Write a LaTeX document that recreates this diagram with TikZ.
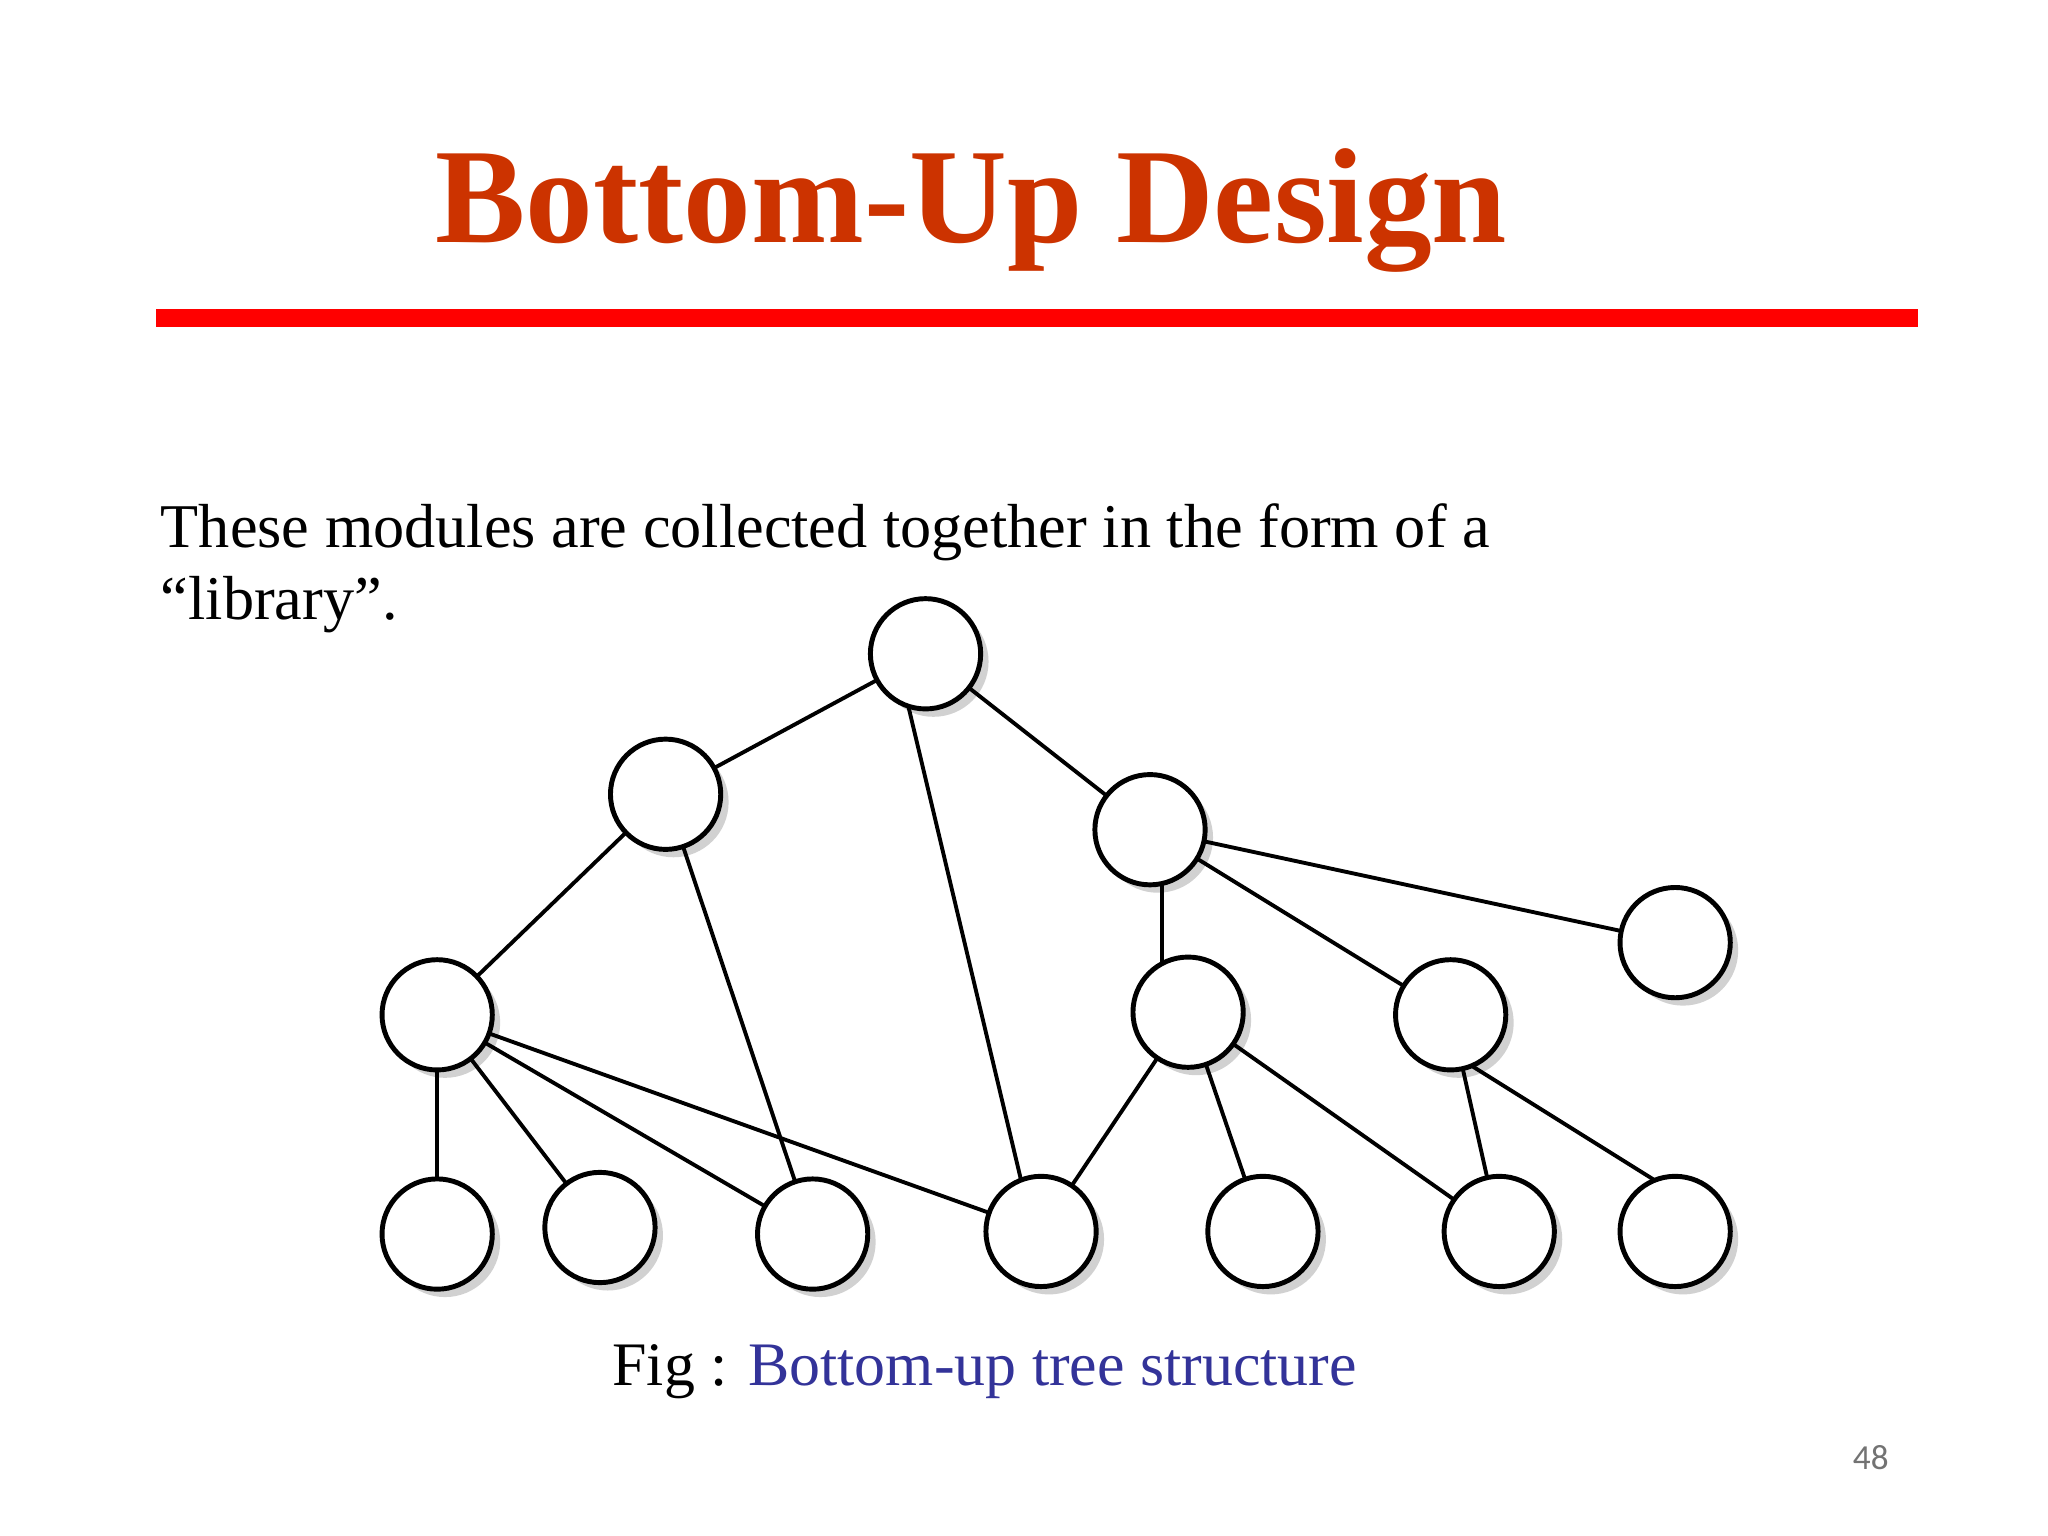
\documentclass[tikz,border=0pt]{standalone}
\usepackage{fontspec}
\setmainfont{Liberation Serif}
\newfontfamily\pnfont{Carlito}
\definecolor{titlecol}{HTML}{CC3300}
\begin{document}
\begin{tikzpicture}[x=0.013128cm,y=-0.013128cm,
  mod/.style={circle,draw=black,line width=1.4pt,fill=white,minimum size=84*0.013128cm,inner sep=0pt},
  shad/.style={circle,fill=black!18,minimum size=84*0.013128cm,inner sep=0pt},
  conn/.style={line width=1.1pt}]
\useasboundingbox[fill=white] (0,0) rectangle (1560,1170);
\node[text=titlecol,font=\bfseries\fontsize{38.5}{46}\selectfont] (title) at (740,160) {Bottom-Up Design};
\coordinate (ls) at (119,242); \coordinate (le) at (1461,242);
\draw[red,line width=5pt] (ls) -- (le);
\node[anchor=north west,align=left,font=\fontsize{17.7}{20.5}\selectfont,inner sep=0pt] (txt) at (122,383) {These modules are collected together in the form of a\\``library''.};
\foreach \n/\x/\y in {root/705/498,L1/507/605,R1/876/632,far/1276/718,A/333/773,B/905/771,C/1105/773,b1/333/940,b2/457/935,b3/619/940,b4/793/938,b5/962/938,b6/1142/938,b7/1276/938}
  {\node[shad] (s\n) at (\x+6,\y+6) {};
   \coordinate (c\n) at (\x,\y);}
\foreach \a/\b in {root/L1,root/R1,L1/A,L1/b3,R1/far,R1/C,A/b1,A/b2,A/b3,A/b4,B/b4,B/b5,B/b6,C/b6}
  \draw[conn] (c\a) -- (c\b);
\coordinate (r1) at (690,530); \coordinate (r2) at (778,900);
\draw[conn] (r1) -- (r2);
\coordinate (k1) at (1118,810); \coordinate (k2) at (1262,900);
\draw[conn] (k1) -- (k2);
\coordinate (rb1) at (885,660); \coordinate (rb2) at (885,735);
\draw[conn] (rb1) -- (rb2);
\foreach \n/\x/\y in {root/705/498,L1/507/605,R1/876/632,far/1276/718,A/333/773,B/905/771,C/1105/773,b1/333/940,b2/457/935,b3/619/940,b4/793/938,b5/962/938,b6/1142/938,b7/1276/938}
  \node[mod] (\n) at (\x,\y) {};
\node[font=\fontsize{17.6}{22}\selectfont] (cap) at (750,1045) {Fig : \textcolor[HTML]{333399}{Bottom-up tree structure}};
\node[font=\pnfont\fontsize{10}{12}\selectfont,text=black!55] (pn) at (1425,1110) {48};
\end{tikzpicture}
\end{document}
